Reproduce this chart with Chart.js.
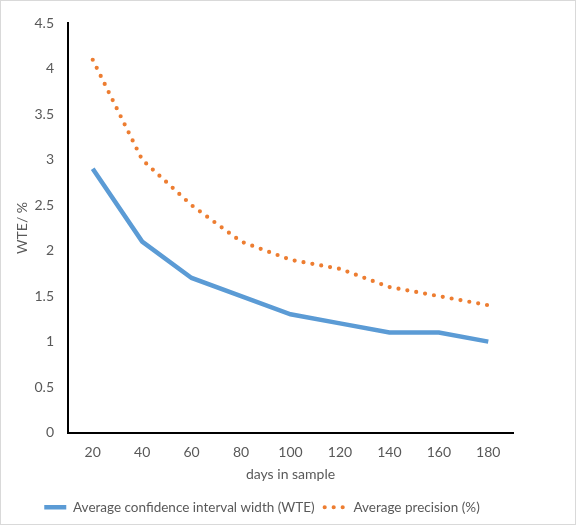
<!DOCTYPE html>
<html>
<head>
<meta charset="utf-8">
<script src="https://cdn.jsdelivr.net/npm/chart.js@4"></script>
<style>
  html, body { margin: 0; padding: 0; background: #fff; }
  #wrap { width: 574px; height: 523px; border: 1px solid #d9d9d9; position: relative; }
</style>
</head>
<body>
<div id="wrap"><canvas id="chart"></canvas></div>
<script>
const days = ['20', '40', '60', '80', '100', '120', '140', '160', '180'];
const ciWidth = [2.9, 2.1, 1.7, 1.5, 1.3, 1.2, 1.1, 1.1, 1.0];
const precision = [4.1, 3.0, 2.5, 2.1, 1.9, 1.8, 1.6, 1.5, 1.4];
const yTicks = [0, 0.5, 1, 1.5, 2, 2.5, 3, 3.5, 4, 4.5];

const textColor = '#595959';
const font = { family: 'Lato, "Open Sans", sans-serif', size: 14 };
const legendFont = { family: 'Lato, "Open Sans", sans-serif', size: 13.5 };

new Chart(document.getElementById('chart'), {
    type: 'line',
    data: {
        labels: days,
        datasets: [
            {
                label: 'Average confidence interval width (WTE)',
                data: ciWidth,
                borderColor: '#5B9BD5',
                backgroundColor: '#5B9BD5',
                borderWidth: 4.5,
                pointRadius: 0,
                tension: 0
            },
            {
                label: 'Average precision (%)',
                data: precision,
                borderColor: '#ED7D31',
                backgroundColor: '#ED7D31',
                borderWidth: 4.2,
                borderDash: [0, 9],
                borderCapStyle: 'round',
                pointRadius: 0,
                tension: 0
            }
        ]
    },
    options: {
        responsive: true,
        maintainAspectRatio: false,
        animation: false,
        layout: { padding: { left: 10, top: 14, right: 62, bottom: 0 } },
        plugins: {
            tooltip: { enabled: false },
            legend: {
                position: 'bottom',
                labels: {
                    usePointStyle: true,
                    pointStyle: 'line',
                    pointStyleWidth: 22,
                    padding: 10,
                    color: textColor,
                    font: legendFont,
                    generateLabels: (chart) => {
                        const items = Chart.defaults.plugins.legend.labels.generateLabels(chart);
                        items.forEach(item => {
                            const ds = chart.data.datasets[item.datasetIndex];
                            item.lineDash = ds.borderDash || [];
                            item.lineCap = ds.borderCapStyle || 'butt';
                            item.lineWidth = ds.borderWidth;
                        });
                        return items;
                    }
                }
            }
        },
        scales: {
            x: {
                offset: true,
                grid: { display: false, drawTicks: false },
                border: { color: '#000', width: 2 },
                ticks: { color: textColor, font: font, padding: 12, maxRotation: 0 },
                title: {
                    display: true,
                    text: 'days in sample',
                    color: textColor,
                    font: font,
                    padding: { top: 0, bottom: 8 }
                },
                afterFit: (scale) => { scale.height = 58; }
            },
            y: {
                min: 0,
                max: 4.5,
                grid: { display: false, drawTicks: false },
                border: { color: '#000', width: 2 },
                afterBuildTicks: (scale) => { scale.ticks = yTicks.map(v => ({ value: v })); },
                ticks: {
                    color: textColor,
                    font: font,
                    padding: 14,
                    callback: (v) => String(v)
                },
                title: {
                    display: true,
                    text: 'WTE/ %',
                    color: textColor,
                    font: font,
                    padding: { top: 3, bottom: 0 }
                },
                afterFit: (scale) => { scale.width = 57; }
            }
        }
    }
});
</script>
</body>
</html>
